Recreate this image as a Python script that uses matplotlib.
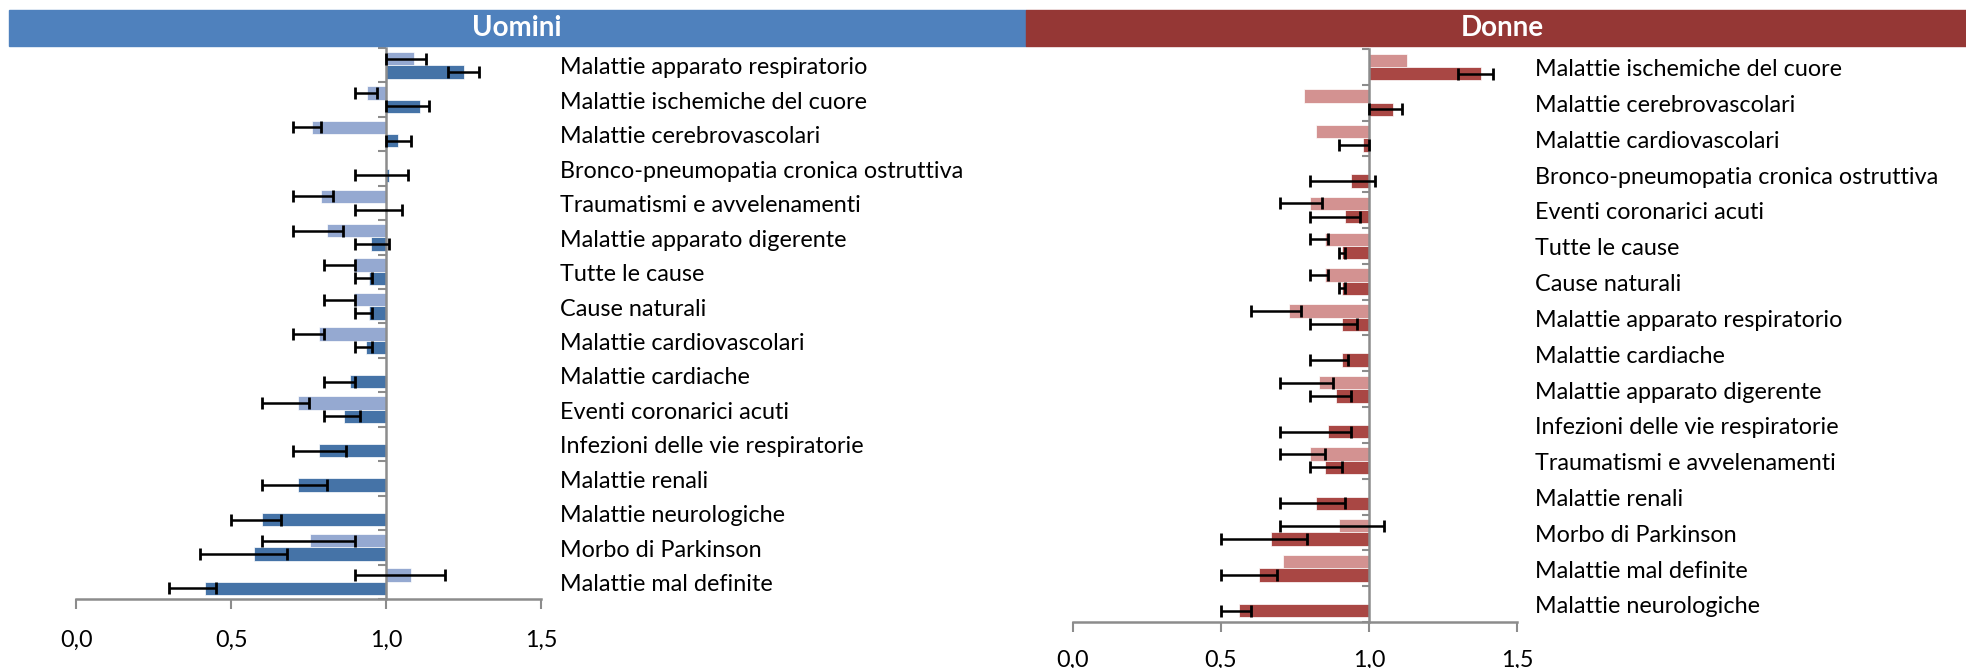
import numpy as np
import matplotlib.pyplot as plt

nan = np.nan

# Uomini
cats_u = ["Malattie apparato respiratorio", "Malattie ischemiche del cuore",
          "Malattie cerebrovascolari", "Bronco-pneumopatia cronica ostruttiva",
          "Traumatismi e avvelenamenti", "Malattie apparato digerente",
          "Tutte le cause", "Cause naturali", "Malattie cardiovascolari",
          "Malattie cardiache", "Eventi coronarici acuti",
          "Infezioni delle vie respiratorie", "Malattie renali",
          "Malattie neurologiche", "Morbo di Parkinson", "Malattie mal definite"]
u_light = [1.09, 0.94, 0.76, nan, 0.79, 0.81, 0.895, 0.895, 0.785, nan, 0.715, nan, nan, nan, 0.755, 1.08]
u_light_lo = [1.00, 0.90, 0.70, nan, 0.70, 0.70, 0.80, 0.80, 0.70, nan, 0.60, nan, nan, nan, 0.60, 0.90]
u_light_hi = [1.13, 0.97, 0.79, nan, 0.83, 0.86, 0.90, 0.90, 0.80, nan, 0.75, nan, nan, nan, 0.90, 1.19]
u_dark = [1.25, 1.11, 1.04, 1.01, 1.00, 0.95, 0.945, 0.945, 0.935, 0.885, 0.865, 0.785, 0.715, 0.60, 0.575, 0.415]
u_dark_lo = [1.20, 1.00, 1.00, 0.90, 0.90, 0.90, 0.90, 0.90, 0.90, 0.80, 0.80, 0.70, 0.60, 0.50, 0.40, 0.30]
u_dark_hi = [1.30, 1.14, 1.08, 1.07, 1.05, 1.01, 0.955, 0.955, 0.955, 0.90, 0.915, 0.87, 0.81, 0.66, 0.68, 0.45]

# Donne
cats_d = ["Malattie ischemiche del cuore", "Malattie cerebrovascolari",
          "Malattie cardiovascolari", "Bronco-pneumopatia cronica ostruttiva",
          "Eventi coronarici acuti", "Tutte le cause", "Cause naturali",
          "Malattie apparato respiratorio", "Malattie cardiache",
          "Malattie apparato digerente", "Infezioni delle vie respiratorie",
          "Traumatismi e avvelenamenti", "Malattie renali", "Morbo di Parkinson",
          "Malattie mal definite", "Malattie neurologiche"]
d_light = [1.13, 0.78, 0.82, nan, 0.80, 0.85, 0.85, 0.73, nan, 0.83, nan, 0.80, nan, 0.90, 0.71, nan]
d_light_lo = [nan, nan, nan, nan, 0.70, 0.80, 0.80, 0.60, nan, 0.70, nan, 0.70, nan, 0.70, nan, nan]
d_light_hi = [nan, nan, nan, nan, 0.84, 0.86, 0.86, 0.77, nan, 0.88, nan, 0.85, nan, 1.05, nan, nan]
d_dark = [1.38, 1.08, 0.98, 0.94, 0.92, 0.91, 0.91, 0.91, 0.91, 0.89, 0.86, 0.85, 0.82, 0.67, 0.63, 0.56]
d_dark_lo = [1.30, 1.00, 0.90, 0.80, 0.80, 0.90, 0.90, 0.80, 0.80, 0.80, 0.70, 0.80, 0.70, 0.50, 0.50, 0.50]
d_dark_hi = [1.42, 1.11, 1.00, 1.02, 0.97, 0.92, 0.92, 0.96, 0.93, 0.94, 0.94, 0.91, 0.92, 0.79, 0.69, 0.60]

tick_vals = [0, 0.5, 1.0, 1.5]
tick_labels = ["0,0", "0,5", "1,0", "1,5"]

plt.rcParams['font.family'] = ['Lato', 'DejaVu Sans']
GRAY = '#8c8c8c'

fig = plt.figure(figsize=(19.66, 6.68), dpi=100)

# header bands
fig.patches.append(plt.Rectangle((0.0046, 0.931), 0.5173, 0.054, transform=fig.transFigure,
                                 color='#4f81bd', zorder=0))
fig.patches.append(plt.Rectangle((0.5219, 0.931), 0.4781, 0.054, transform=fig.transFigure,
                                 color='#953735', zorder=0))
fig.text(0.263, 0.958, 'Uomini', color='white', fontsize=20, fontweight='bold', ha='center', va='center')
fig.text(0.764, 0.958, 'Donne', color='white', fontsize=20, fontweight='bold', ha='center', va='center')


def panel(ax, cats, light, llo, lhi, dark, dlo, dhi, c_light, c_dark, h, pad):
    n = len(cats)
    y = np.arange(n) + 0.5
    light = np.array(light); dark = np.array(dark)
    llo, lhi = np.array(llo), np.array(lhi)
    dlo, dhi = np.array(dlo), np.array(dhi)
    yl = y - h / 2
    yd = y + h / 2
    ax.barh(yl, light - 1, left=1, height=h, color=c_light, edgecolor='white', linewidth=0.5, zorder=2)
    ax.barh(yd, dark - 1, left=1, height=h, color=c_dark, edgecolor='white', linewidth=0.5, zorder=2)
    ax.errorbar((llo + lhi) / 2, yl, xerr=(lhi - llo) / 2, fmt='none', ecolor='black',
                elinewidth=1.8, capsize=4, capthick=2, zorder=4)
    ax.errorbar((dlo + dhi) / 2, yd, xerr=(dhi - dlo) / 2, fmt='none', ecolor='black',
                elinewidth=1.8, capsize=4, capthick=2, zorder=4)
    # category axis at 1.0
    ax.plot([1, 1], [0, n], color=GRAY, lw=1.8, zorder=3, clip_on=False)
    ax.hlines(np.arange(n + 1), 1 - 0.025, 1, color=GRAY, lw=1.5, zorder=3, clip_on=False)
    for yi, c in zip(y, cats):
        ax.text(1.56, yi + 0.08, c, fontsize=16.8, ha='left', va='center', clip_on=False)
    ax.set_xlim(0, 1.5)
    ax.set_ylim(n, 0)
    for s in ['top', 'right', 'left']:
        ax.spines[s].set_visible(False)
    ax.spines['bottom'].set_color(GRAY)
    ax.spines['bottom'].set_linewidth(1.8)
    ax.set_yticks([])
    ax.set_xticks(tick_vals)
    ax.set_xticklabels(tick_labels)
    ax.tick_params(axis='x', length=7, width=1.5, color=GRAY, pad=pad, labelsize=16.8)


ax1 = fig.add_axes([0.0387, 0.1033, 0.2365, 0.8249])
panel(ax1, cats_u, u_light, u_light_lo, u_light_hi, u_dark, u_dark_lo, u_dark_hi,
      '#95a9d1', '#4573a7', 0.387, 15)

ax2 = fig.add_axes([0.5458, 0.0689, 0.2258, 0.8578])
panel(ax2, cats_d, d_light, d_light_lo, d_light_hi, d_dark, d_dark_lo, d_dark_hi,
      '#d39291', '#a94744', 0.372, 13)

fig.savefig('out.png', dpi=100)
